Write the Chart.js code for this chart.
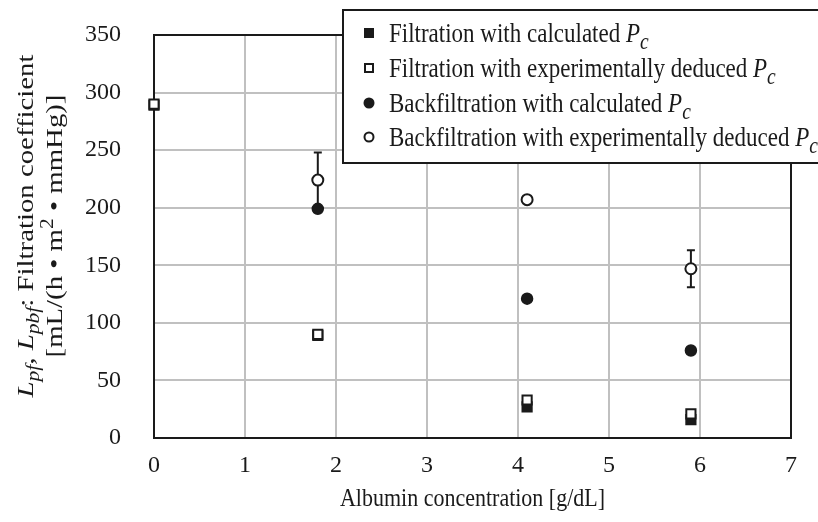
<!DOCTYPE html>
<html>
<head>
<meta charset="utf-8">
<script src="https://cdn.jsdelivr.net/npm/chart.js@4/dist/chart.umd.min.js"></script>
<style>
    html, body { margin: 0; padding: 0; background: #fff; }
</style>
</head>
<body>
<canvas id="chart" width="818" height="522"></canvas>
<script>
// Filtration coefficient vs albumin concentration

// Data
const filtrationX = [0, 1.8, 4.1, 5.9];
const filtrationCalc = [289, 89, 27, 16];
const filtrationExp = [290, 90, 33, 21];
const backX = [1.8, 4.1, 5.9];
const backCalc = [199, 121, 76];
const backExp = [224, 207, 147];
const backExpErr = [24, 0, 16];

const xMin = 0, xMax = 7, xStep = 1;
const yMin = 0, yMax = 350, yStep = 50;

const legendNames = [
    'Filtration with calculated ',
    'Filtration with experimentally deduced ',
    'Backfiltration with calculated ',
    'Backfiltration with experimentally deduced '
];
const xTitle = 'Albumin concentration [g/dL]';

const serif = "'Liberation Serif', 'Times New Roman', serif";
const ink = '#1a1a1a';

function toPoints(xs, ys) {
    return xs.map((x, i) => ({ x: x, y: ys[i] }));
}

function fontOf(size, italic) {
    return (italic ? 'italic ' : '') + size + 'px ' + serif;
}

// rich text: parts = [{t, italic, sub, sup}]
function richWidth(ctx, parts, size, small) {
    let w = 0;
    parts.forEach(p => {
        ctx.font = fontOf(p.sub || p.sup ? size * small : size, p.italic);
        w += ctx.measureText(p.t).width;
    });
    return w;
}

function drawRich(ctx, parts, x, y, size, small) {
    parts.forEach(p => {
        const s = p.sub || p.sup ? size * small : size;
        ctx.font = fontOf(s, p.italic);
        let dy = 0;
        if (p.sub) dy = size * 0.27;
        if (p.sup) dy = -size * 0.38;
        ctx.fillText(p.t, x, y + dy);
        x += ctx.measureText(p.t).width;
    });
}

const extras = {
    id: 'extras',
    beforeDatasetsDraw(chart) {
        const ctx = chart.ctx;
        const a = chart.chartArea;
        const xs = chart.scales.x, ys = chart.scales.y;
        ctx.save();
        // plot frame
        ctx.strokeStyle = ink;
        ctx.lineWidth = 2;
        ctx.strokeRect(a.left, a.top, a.right - a.left, a.bottom - a.top);
        // error bars on open circles
        ctx.lineWidth = 2;
        backX.forEach((x, i) => {
            const e = backExpErr[i];
            if (!e) return;
            const px = xs.getPixelForValue(x);
            const top = ys.getPixelForValue(backExp[i] + e);
            const bot = ys.getPixelForValue(backExp[i] - e);
            ctx.beginPath();
            ctx.moveTo(px, top); ctx.lineTo(px, bot);
            ctx.moveTo(px - 4, top); ctx.lineTo(px + 4, top);
            ctx.moveTo(px - 4, bot); ctx.lineTo(px + 4, bot);
            ctx.stroke();
        });
        ctx.restore();
    },
    afterDraw(chart) {
        const ctx = chart.ctx;
        const a = chart.chartArea;
        ctx.save();
        ctx.fillStyle = ink;
        ctx.textBaseline = 'alphabetic';

        // x axis title
        ctx.save();
        ctx.translate((a.left + a.right) / 2, 506);
        ctx.scale(1, 1.15);
        ctx.font = fontOf(22, false);
        ctx.textAlign = 'center';
        ctx.fillText(xTitle, 0, 0);
        ctx.restore();

        // y axis title, two rotated lines
        const line1 = [
            { t: 'L', italic: true }, { t: 'pf', italic: true, sub: true }, { t: ', ', italic: true },
            { t: 'L', italic: true }, { t: 'pbf', italic: true, sub: true },
            { t: ': Filtration coefficient' }
        ];
        const line2 = [{ t: '[mL/(h \u2022 m' }, { t: '2', sup: true }, { t: ' \u2022 mmHg)]' }];
        [[line1, 33], [line2, 62]].forEach(([parts, bx]) => {
            const w = richWidth(ctx, parts, 24, 0.75);
            ctx.save();
            ctx.translate(bx, 226);
            ctx.rotate(-Math.PI / 2);
            ctx.scale(1.2, 1);
            drawRich(ctx, parts, -w / 2, 0, 24, 0.75);
            ctx.restore();
        });

        // legend box
        ctx.fillStyle = '#fff';
        ctx.fillRect(343, 10, 500, 153);
        ctx.strokeStyle = ink;
        ctx.lineWidth = 2;
        ctx.strokeRect(343, 10, 500, 153);

        const rows = [33, 68, 103, 137];
        const mx = 369;
        rows.forEach((cy, i) => {
            ctx.fillStyle = ink;
            ctx.strokeStyle = ink;
            ctx.lineWidth = 2;
            if (i === 0) {
                ctx.fillRect(mx - 5, cy - 5, 10, 10);
            } else if (i === 1) {
                ctx.fillStyle = '#fff';
                ctx.fillRect(mx - 4, cy - 4, 8, 8);
                ctx.strokeRect(mx - 4, cy - 4, 8, 8);
            } else {
                ctx.beginPath();
                ctx.arc(mx, cy, i === 2 ? 5.5 : 4.5, 0, Math.PI * 2);
                if (i === 2) ctx.fill();
                else { ctx.fillStyle = '#fff'; ctx.fill(); ctx.stroke(); }
            }
            ctx.fillStyle = ink;
            ctx.save();
            ctx.translate(389, cy + 9);
            ctx.scale(1, 1.15);
            drawRich(ctx, [
                { t: legendNames[i] },
                { t: 'P', italic: true },
                { t: 'c', italic: true, sub: true }
            ], 0, 0, 23, 0.85);
            ctx.restore();
        });
        ctx.restore();
    }
};

const ctx = document.getElementById('chart').getContext('2d');
new Chart(ctx, {
    type: 'scatter',
    data: {
        datasets: [{
            label: legendNames[0],
            data: toPoints(filtrationX, filtrationCalc),
            pointStyle: 'rect',
            pointRadius: 6.5,
            backgroundColor: ink,
            borderColor: ink,
            borderWidth: 2,
            order: 4,
            clip: false
        }, {
            label: legendNames[1],
            data: toPoints(filtrationX, filtrationExp),
            pointStyle: 'rect',
            pointRadius: 6.5,
            backgroundColor: '#fff',
            borderColor: ink,
            borderWidth: 2,
            order: 3,
            clip: false
        }, {
            label: legendNames[2],
            data: toPoints(backX, backCalc),
            pointStyle: 'circle',
            pointRadius: 5.5,
            backgroundColor: ink,
            borderColor: ink,
            borderWidth: 1.5,
            order: 2,
            clip: false
        }, {
            label: legendNames[3],
            data: toPoints(backX, backExp),
            pointStyle: 'circle',
            pointRadius: 5.5,
            backgroundColor: '#fff',
            borderColor: ink,
            borderWidth: 2,
            order: 1,
            clip: false
        }]
    },
    options: {
        responsive: false,
        animation: false,
        layout: { padding: { top: 35, right: 27, left: 0, bottom: 0 } },
        plugins: {
            legend: { display: false },
            tooltip: { enabled: false }
        },
        scales: {
            x: {
                type: 'linear',
                min: xMin,
                max: xMax,
                afterFit: (s) => { s.height = 84; },
                ticks: {
                    stepSize: xStep,
                    color: ink,
                    padding: 3,
                    maxRotation: 0,
                    font: { family: serif, size: 24 }
                },
                // invisible tick marks push the labels away from the frame
                grid: { color: '#c0c0c0', lineWidth: 2, drawTicks: true, tickLength: 10, tickColor: 'rgba(0,0,0,0)' },
                border: { display: false }
            },
            y: {
                min: yMin,
                max: yMax,
                afterFit: (s) => { s.width = 154; },
                ticks: {
                    stepSize: yStep,
                    color: ink,
                    padding: 3,
                    font: { family: serif, size: 24 }
                },
                grid: { color: '#c0c0c0', lineWidth: 2, drawTicks: true, tickLength: 30, tickColor: 'rgba(0,0,0,0)' },
                border: { display: false }
            }
        }
    },
    plugins: [extras]
});
</script>
</body>
</html>
